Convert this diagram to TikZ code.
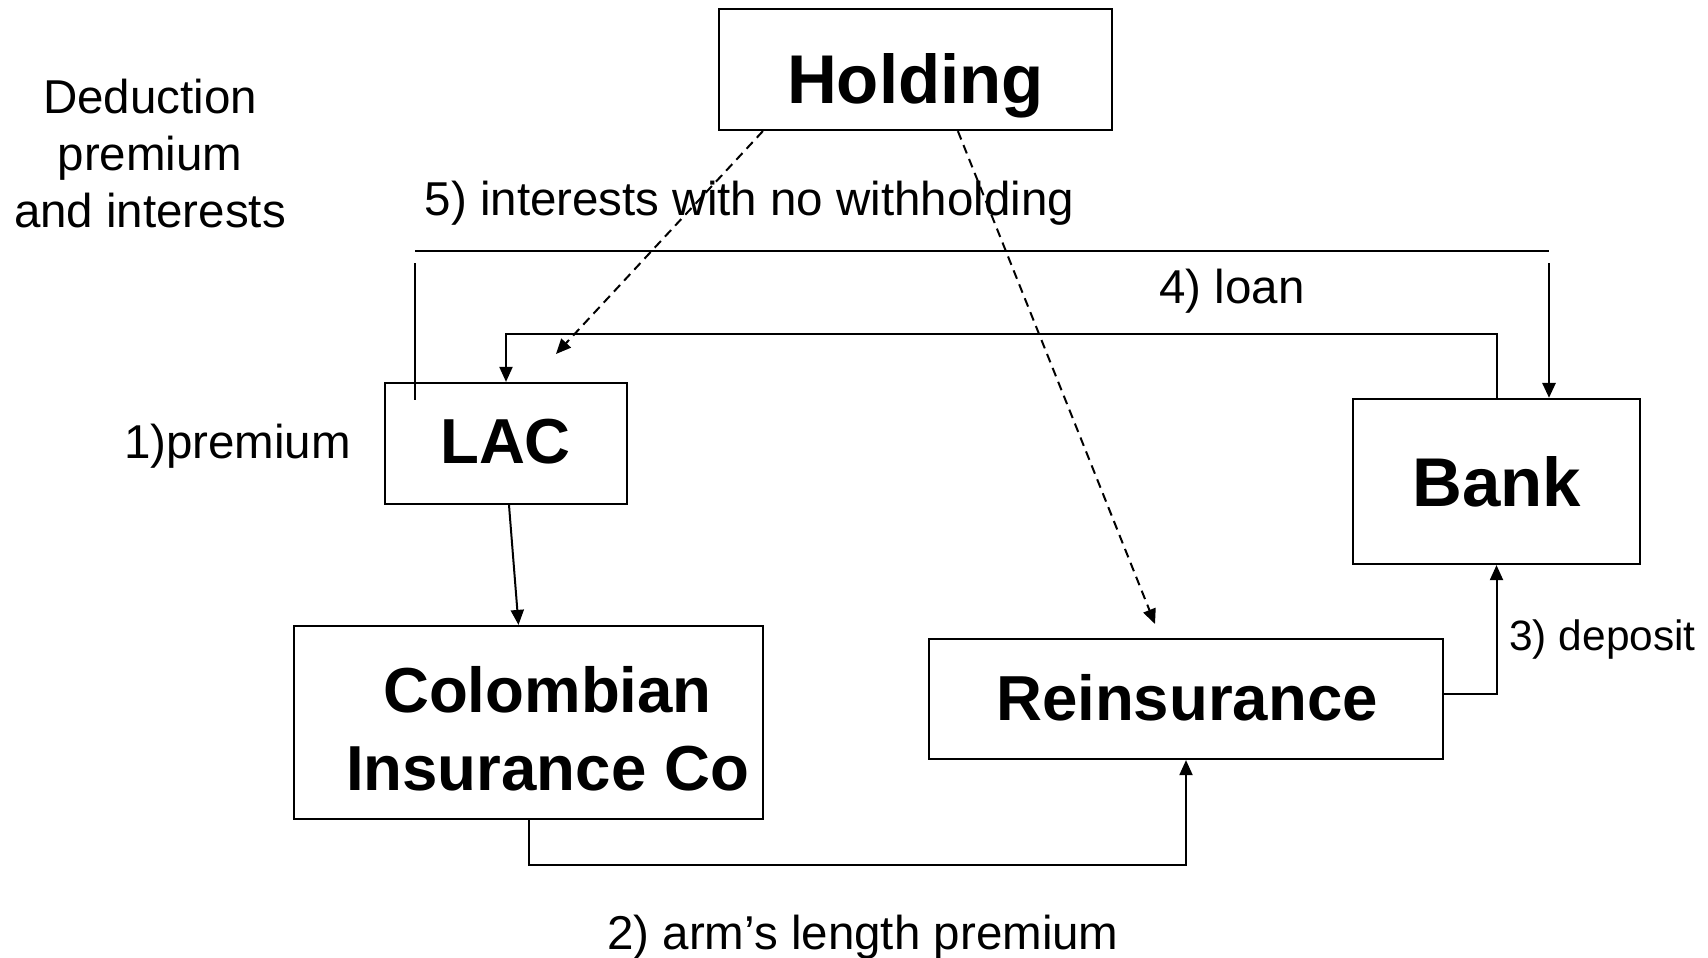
\documentclass[tikz,border=0pt]{standalone}
\usepackage{fontspec}
\setmainfont{Liberation Sans}
\usetikzlibrary{arrows.meta,calc}
\begin{document}
\begin{tikzpicture}[x=0.5pt,y=-0.5pt,
  box/.style={draw,line width=1.1pt,inner sep=0pt},
  lbl/.style={inner sep=0pt,anchor=base,font=\fontsize{23.75pt}{28.5pt}\selectfont},
  smalllbl/.style={inner sep=0pt,anchor=base,font=\fontsize{21.2pt}{25pt}\selectfont},
  boxlbl/.style={inner sep=0pt,anchor=base,font=\bfseries\fontsize{31.8pt}{39pt}\selectfont},
  biglbl/.style={inner sep=0pt,anchor=base,font=\bfseries\fontsize{34.5pt}{40pt}\selectfont},
  tip/.style={-{Triangle[length=7.5pt,width=6.5pt]}},
  flow/.style={line width=1pt,tip},
  heavy/.style={line width=1.4pt},
  dashflow/.style={line width=1pt,dash pattern=on 4.5pt off 3pt,tip}]
\useasboundingbox (0,0) rectangle (1708,958);

% boxes
\node[box,minimum width=196.5pt,minimum height=60.5pt] (hold) at (915.5,69.5) {};
\node[box,minimum width=121pt,minimum height=60.5pt] (lac) at (506,443.5) {};
\node[box,minimum width=143.5pt,minimum height=82.5pt] (bank) at (1496.5,481.5) {};
\node[box,minimum width=234.5pt,minimum height=96.5pt] (col) at (528.5,722.5) {};
\node[box,minimum width=257pt,minimum height=60pt] (reins) at (1186,699) {};

% box titles
\node[biglbl] (holdtxt) at (915.5,103) {Holding};
\node[boxlbl] (lactxt) at (505.5,463.6) {LAC};
\node[biglbl] (banktxt) at (1497,506) {Bank};
\node[boxlbl] (coltxta) at (547.5,712.3) {Colombian};
\node[boxlbl] (coltxtb) at (547.5,790.8) {Insurance Co};
\node[boxlbl] (reinstxt) at (1187,720) {Reinsurance};

% side notes and flow labels
\node[lbl] (deda) at (150,113) {Deduction};
\node[lbl] (dedb) at (150,170.6) {premium};
\node[lbl] (dedc) at (150,227.2) {and interests};
\node[lbl] (premlbl) at (237.5,458) {1)premium};
\node[lbl] (intlbl) at (749.5,215) {5) interests with no withholding};
\node[lbl] (loanlbl) at (1232,303.5) {4) loan};
\node[smalllbl,anchor=base west] (deplbl) at (1509,650) {3) deposit};
\node[lbl] (armlbl) at (863,949.5) {2) arm’s length premium};

% free ends
\coordinate (barL) at (415,251);
\coordinate (barR) at (1549,251);
\coordinate (lvtop) at (415,263);
\coordinate (lvbot) at (415,400);
\coordinate (rvtop) at (1549,263);
\coordinate (dAend) at (556,354);
\coordinate (dBend) at (1155,624);

% deduction bracket
\draw[heavy] (barL) -- (barR);
\draw[heavy] (lvtop) -- (lvbot);
\draw[heavy,tip] (rvtop) -- (bank.north -| rvtop);

% 1) premium
\draw[flow] ($(lac.south)+(3,0)$) -- ($(col.north)+(-10,0)$);
% 2) arm's length premium
\draw[flow] (col.south) -- ++(0,45) -| (reins.south);
% 3) deposit
\draw[flow] ($(reins.east)+(0,-5)$) -| (bank.south);
% 4) loan
\draw[flow] (bank.north) |- ($(lac.north)+(0,-48)$) -- (lac.north);
% 5) interests
\draw[dashflow] ($(hold.south west)+(45,0)$) -- (dAend);
\draw[dashflow] ($(hold.south west)+(240,0)$) -- (dBend);
\end{tikzpicture}
\end{document}
